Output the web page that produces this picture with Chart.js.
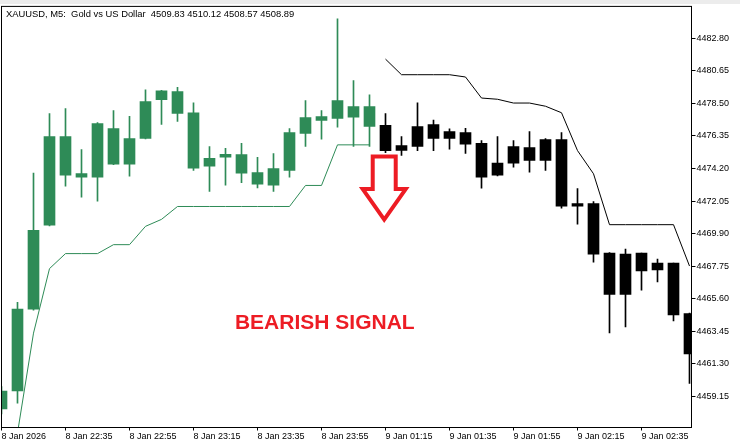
<!DOCTYPE html>
<html>
<head>
<meta charset="utf-8">
<title>XAUUSD, M5</title>
<script src="https://cdn.jsdelivr.net/npm/chart.js"></script>
<style>
  html, body { margin: 0; padding: 0; }
  body { width: 740px; height: 445px; overflow: hidden; background: linear-gradient(#ececec 0, #ececec 4px, #ffffff 4px); }
  canvas { display: block; }
</style>
</head>
<body>
<canvas id="myChart" width="740" height="445"></canvas>
<script>
// M5 bars, index 0 = 8 Jan 22:15
const opens  = [4458.32, 4459.51, 4464.91, 4470.46, 4476.30, 4473.62, 4473.62, 4476.83, 4474.48, 4476.19,
                4478.74, 4479.27, 4477.88, 4474.35, 4474.94, 4475.12, 4473.93, 4473.10, 4474.08, 4476.52,
                4477.38, 4477.51, 4478.28, 4478.28, 4477.05, 4475.40, 4475.66, 4477.09, 4476.19, 4476.57,
                4475.86, 4473.75, 4474.55, 4475.58, 4474.74, 4476.11, 4471.71, 4471.89, 4468.62, 4465.88,
                4468.62, 4467.50, 4467.96, 4464.62];
const highs  = [4459.80, 4465.37, 4473.89, 4477.82, 4478.15, 4475.45, 4477.23, 4478.02, 4477.64, 4479.40,
                4479.36, 4479.55, 4478.54, 4475.65, 4475.53, 4475.86, 4474.94, 4475.18, 4476.83, 4478.68,
                4478.02, 4484.08, 4480.00, 4479.07, 4477.82, 4476.30, 4478.54, 4477.40, 4476.81, 4476.85,
                4476.04, 4476.30, 4476.04, 4476.63, 4476.17, 4476.57, 4472.88, 4472.02, 4468.65, 4468.88,
                4468.62, 4468.22, 4467.96, 4464.65];
const lows   = [4458.00, 4458.71, 4464.84, 4470.41, 4473.03, 4472.31, 4472.04, 4474.45, 4473.69, 4476.15,
                4477.11, 4477.31, 4474.08, 4472.68, 4473.10, 4473.27, 4472.92, 4472.68, 4473.62, 4475.65,
                4476.13, 4476.92, 4475.66, 4475.65, 4475.25, 4475.07, 4475.38, 4475.38, 4475.47, 4475.20,
                4472.90, 4473.71, 4474.28, 4473.95, 4474.08, 4471.58, 4470.53, 4468.02, 4463.35, 4463.74,
                4466.16, 4466.71, 4464.14, 4460.01];
const closes = [4459.51, 4464.91, 4470.11, 4476.30, 4473.75, 4473.87, 4477.16, 4474.48, 4476.17, 4478.61,
                4479.33, 4477.84, 4474.22, 4474.87, 4475.14, 4473.89, 4473.16, 4474.20, 4476.57, 4477.56,
                4477.62, 4478.68, 4477.58, 4476.98, 4475.38, 4475.71, 4476.96, 4476.19, 4476.63, 4475.80,
                4473.62, 4474.55, 4475.65, 4474.74, 4476.11, 4471.71, 4471.89, 4468.55, 4465.88, 4468.55,
                4467.43, 4467.96, 4464.53, 4461.96];

// trailing stop lines (green while trend is up, black while down)
const upLine   = [4455.60, 4456.74, 4463.33, 4467.59, 4468.58, 4468.58, 4468.58, 4469.17, 4469.17, 4470.38,
                  4470.84, 4471.69, 4471.69, 4471.69, 4471.69, 4471.69, 4471.69, 4471.69, 4471.69, 4473.08,
                  4473.08, 4475.76, 4475.76, 4475.76, null, null, null, null, null, null,
                  null, null, null, null, null, null, null, null, null, null,
                  null, null, null, null];
const downLine = [null, null, null, null, null, null, null, null, null, null,
                  null, null, null, null, null, null, null, null, null, null,
                  null, null, null, null, 4481.42, 4480.39, 4480.39, 4480.39, 4480.39, 4480.24,
                  4478.85, 4478.77, 4478.52, 4478.52, 4478.31, 4477.88, 4475.38, 4473.85, 4470.49, 4470.49,
                  4470.49, 4470.49, 4470.49, 4467.76];

const timeTickIndex = [0, 4, 8, 12, 16, 20, 24, 28, 32, 36, 40];
const timeLabels = ['8 Jan 2026', '8 Jan 22:35', '8 Jan 22:55', '8 Jan 23:15', '8 Jan 23:35', '8 Jan 23:55',
                    '9 Jan 01:15', '9 Jan 01:35', '9 Jan 01:55', '9 Jan 02:15', '9 Jan 02:35'];
const priceTicks = [4459.15, 4461.30, 4463.45, 4465.60, 4467.75, 4469.90, 4472.05, 4474.20, 4476.35, 4478.50,
                    4480.65, 4482.80];

const titleText = 'XAUUSD, M5:  Gold vs US Dollar  4509.83 4510.12 4508.57 4508.89';
const signalText = 'BEARISH SIGNAL';
const signalAt = { x: 14.59, y: 4463.61 };
const arrowAt = { x: 23.92, y: 4475.12 };

const GREEN = '#2e8b57';
const BLACK = '#000000';
const RED = '#ed1c24';

const barColor = (ctx) => upLine[ctx.dataIndex] !== null ? GREEN : BLACK;

const bodies = opens.map((o, i) => ({ x: i, y: [o, closes[i]] }));
const wicks = highs.map((h, i) => ({ x: i, y: [lows[i], h] }));
const upPts = upLine.map((v, i) => ({ x: i, y: v }));
const downPts = downLine.map((v, i) => ({ x: i, y: v }));

const overlay = {
    id: 'overlay',
    afterDatasetsDraw(chart) {
        const ctx = chart.ctx;
        const a = chart.chartArea;
        const xs = chart.scales.x;
        const ys = chart.scales.y;
        ctx.save();

        // frame round the plot
        ctx.strokeStyle = '#000';
        ctx.lineWidth = 1;
        ctx.strokeRect(a.left, a.top, a.right - a.left, a.bottom - a.top);

        // symbol caption
        ctx.fillStyle = '#000';
        ctx.font = '9.4px "Liberation Sans"';
        ctx.textBaseline = 'alphabetic';
        ctx.fillText(titleText, a.left + 4.5, a.top + 10.5);

        // signal arrow
        const cx = xs.getPixelForValue(arrowAt.x);
        const ty = ys.getPixelForValue(arrowAt.y) + 2;
        ctx.beginPath();
        ctx.moveTo(cx - 11.5, ty);
        ctx.lineTo(cx + 11.5, ty);
        ctx.lineTo(cx + 11.5, ty + 32.5);
        ctx.lineTo(cx + 21.5, ty + 32.5);
        ctx.lineTo(cx, ty + 63);
        ctx.lineTo(cx - 21.5, ty + 32.5);
        ctx.lineTo(cx - 11.5, ty + 32.5);
        ctx.closePath();
        ctx.fillStyle = '#fff';
        ctx.fill();
        ctx.lineJoin = 'miter';
        ctx.lineWidth = 4;
        ctx.strokeStyle = RED;
        ctx.stroke();

        // signal label
        ctx.fillStyle = RED;
        ctx.font = 'bold 21px "Liberation Sans"';
        ctx.fillText(signalText, xs.getPixelForValue(signalAt.x), ys.getPixelForValue(signalAt.y));

        ctx.restore();
    }
};

Chart.defaults.font.family = 'Liberation Sans';
Chart.defaults.color = '#000';

new Chart(document.getElementById('myChart').getContext('2d'), {
    type: 'bar',
    data: {
        datasets: [
            { type: 'line', data: upPts, borderColor: GREEN, borderWidth: 1, pointRadius: 0, tension: 0, spanGaps: false },
            { type: 'line', data: downPts, borderColor: BLACK, borderWidth: 1, pointRadius: 0, tension: 0, spanGaps: false },
            { data: bodies, backgroundColor: barColor, barThickness: 11, minBarLength: 1, grouped: false, borderWidth: 0 },
            { data: wicks, backgroundColor: barColor, barThickness: 1, grouped: false, borderWidth: 0 }
        ]
    },
    options: {
        responsive: false,
        animation: false,
        devicePixelRatio: 1,
        layout: { padding: { left: 1.5, top: 5.5, right: 0, bottom: 0 } },
        plugins: { legend: { display: false }, tooltip: { enabled: false } },
        scales: {
            x: {
                type: 'linear',
                min: 0,
                max: 43.125,
                offset: false,
                grid: { offset: false, drawOnChartArea: false, drawTicks: true, tickLength: 3, color: '#000' },
                border: { display: false },
                afterBuildTicks: (scale) => { scale.ticks = timeTickIndex.map(v => ({ value: v })); },
                afterFit: (scale) => { scale.height = 17.5; },
                ticks: {
                    autoSkip: false,
                    maxRotation: 0,
                    minRotation: 0,
                    align: 'start',
                    padding: 1,
                    font: { size: 9 },
                    callback: (value) => timeLabels[timeTickIndex.indexOf(value)]
                }
            },
            y: {
                type: 'linear',
                position: 'right',
                min: 4457.10,
                max: 4484.90,
                grid: { drawOnChartArea: false, drawTicks: true, tickLength: 4, color: '#000' },
                border: { display: false },
                afterBuildTicks: (scale) => { scale.ticks = priceTicks.map(v => ({ value: v })); },
                afterFit: (scale) => { scale.width = 48.5; },
                ticks: {
                    autoSkip: false,
                    padding: 1,
                    font: { size: 9 },
                    callback: (value) => value.toFixed(2)
                }
            }
        }
    },
    plugins: [overlay]
});
</script>
</body>
</html>
